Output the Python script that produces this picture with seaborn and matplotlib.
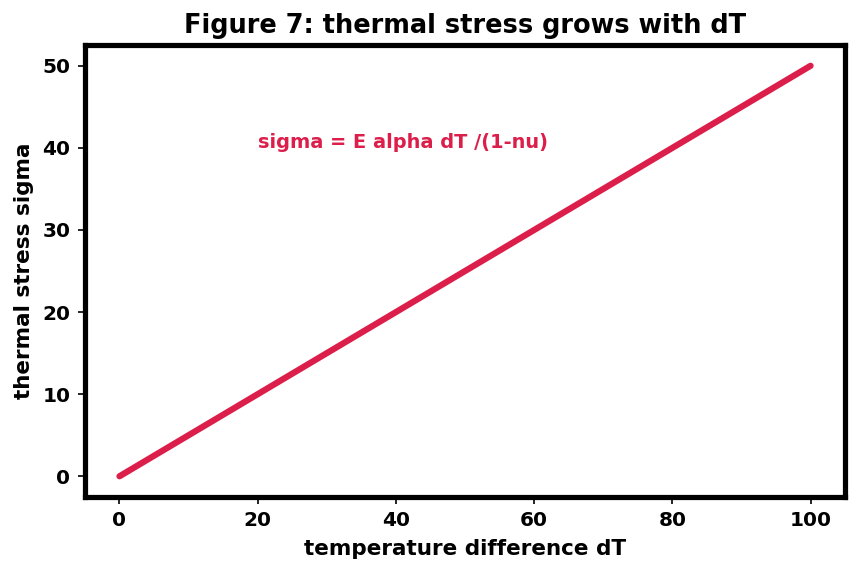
import seaborn as sns
import pandas as pd
import matplotlib.pyplot as plt

# values
delta_t = [0, 20, 40, 60, 80, 100]
sigma = [0, 10, 20, 30, 40, 50]

sns.set_style("ticks")
plt.rcParams['font.family'] = ['DejaVu Sans']
plt.rcParams['font.weight'] = 'bold'
plt.rcParams['text.color'] = 'black'
plt.rcParams['axes.labelcolor'] = 'black'
plt.rcParams['xtick.color'] = 'black'
plt.rcParams['ytick.color'] = 'black'

data = pd.DataFrame({"dT": delta_t, "sigma": sigma})

fig, ax = plt.subplots(figsize=(5.72, 3.82), dpi=150)
fig.subplots_adjust(left=0.099, right=0.985, top=0.921, bottom=0.133)

sns.lineplot(x="dT", y="sigma", data=data, ax=ax, color="#dc1e4b", linewidth=3)

ax.text(20, 40, "sigma = E alpha dT /(1-nu)", color="#dc1e4b",
        fontsize=9.3, fontweight="bold")

ax.set_title("Figure 7: thermal stress grows with dT", fontsize=12.3,
             fontweight="bold", color="black")
ax.set_xlabel("temperature difference dT", fontsize=10.3, fontweight="bold")
ax.set_ylabel("thermal stress sigma", fontsize=10.3, fontweight="bold")
ax.set_xticks([0, 20, 40, 60, 80, 100])
ax.set_yticks([0, 10, 20, 30, 40, 50])
ax.tick_params(labelsize=9.7, colors="black")
for lab in ax.get_xticklabels() + ax.get_yticklabels():
    lab.set_fontweight("bold")
for sp in ax.spines.values():
    sp.set_visible(True)
    sp.set_linewidth(2.5)
    sp.set_color("black")

fig.savefig("out.png", dpi=150)
